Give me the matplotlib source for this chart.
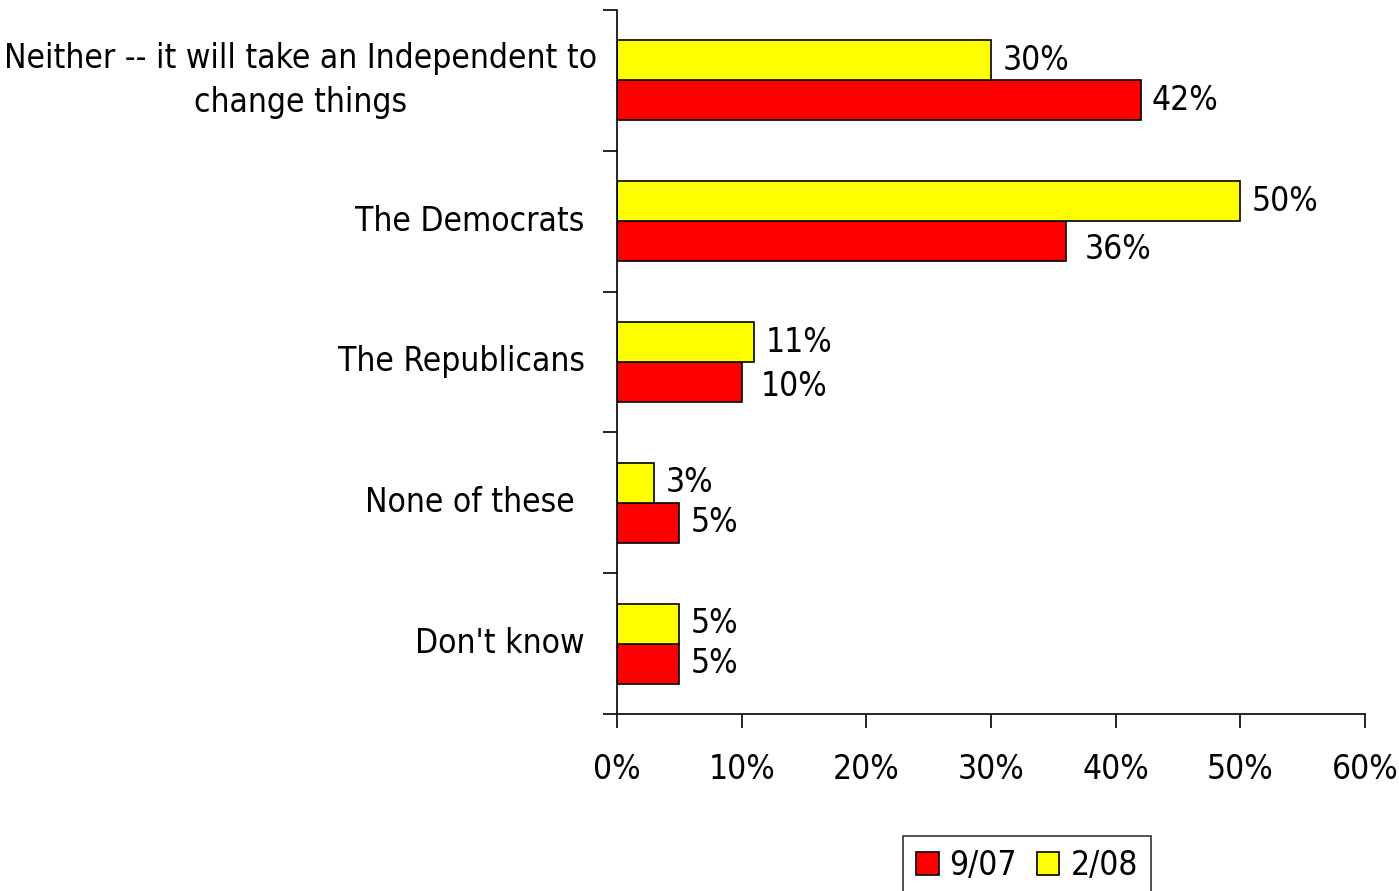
import matplotlib.pyplot as plt
import numpy as np

plt.rcParams['font.family'] = ['DejaVu Sans']
plt.rcParams['font.stretch'] = 'condensed'

categories = ['Neither -- it will take an Independent to\nchange things',
              'The Democrats', 'The Republicans', 'None of these ', "Don't know"]
sep07 = [42, 36, 10, 5, 5]
feb08 = [30, 50, 11, 3, 5]
series_labels = ['9/07', '2/08']
xticks = [0, 10, 20, 30, 40, 50, 60]

fs = 24

fig = plt.figure(figsize=(13.99, 8.91), dpi=100)
ax = fig.add_axes([617 / 1399, 1 - 714 / 891, (1365 - 617) / 1399, (714 - 10) / 891])

y = np.arange(len(categories))
h = 0.284
red = ax.barh(y + h / 2, sep07, height=h, color='#ff0000', edgecolor='black', linewidth=1.2, label=series_labels[0])
yel = ax.barh(y - h / 2, feb08, height=h, color='#ffff00', edgecolor='black', linewidth=1.2, label=series_labels[1])

# excel pushed a couple of labels aside
nudge = {1: (0.6, 0.06), 2: (0.6, 0.03)}
for i, v in enumerate(sep07):
    dx, dy = nudge.get(i, (0, 0))
    ax.text(v + 0.9 + dx, y[i] + h / 2 + dy, f'{v}%', va='center', ha='left', fontsize=fs)
for i, v in enumerate(feb08):
    ax.text(v + 0.9, y[i] - h / 2, f'{v}%', va='center', ha='left', fontsize=fs)

ax.set_xlim(0, 60)
ax.set_ylim(len(categories) - 0.5, -0.5)
ax.set_xticks(xticks)
ax.set_xticklabels([f'{t}%' for t in xticks], fontsize=fs)
ax.set_yticks(np.arange(len(categories) + 1) - 0.5)
ax.set_yticklabels([])
ax.tick_params(axis='y', direction='out', length=10, width=1.2)
ax.tick_params(axis='x', direction='out', length=10, width=1.2, pad=18)
for s in ['top', 'right']:
    ax.spines[s].set_visible(False)
ax.spines['left'].set_linewidth(1.2)
ax.spines['bottom'].set_linewidth(1.2)

# category labels: single-line ones right-aligned, the two-line one centered
for i, c in enumerate(categories):
    if '\n' in c:
        ax.text(-25.4, y[i], c, ha='center', va='center', fontsize=fs, linespacing=1.45)
    else:
        ax.text(-2.6, y[i], c, ha='right', va='center', fontsize=fs)

leg = fig.legend(handles=[red, yel], loc='center', bbox_to_anchor=(1027 / 1399, 1 - 866 / 891),
                 ncol=2, fontsize=fs, frameon=True, fancybox=False, edgecolor='black',
                 handlelength=0.67, handleheight=0.67, handletextpad=0.33, columnspacing=0.6,
                 borderpad=0.4)
leg.get_frame().set_linewidth(1.2)

fig.savefig('out.png', dpi=100)
